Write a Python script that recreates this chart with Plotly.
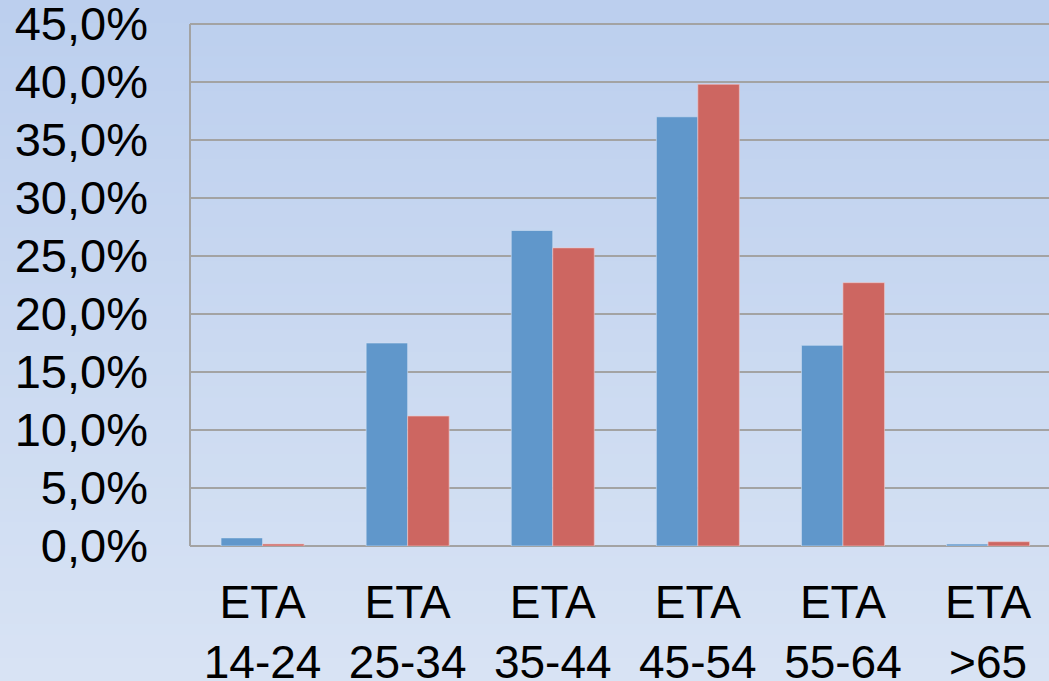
import plotly.graph_objects as go

categories = ["ETA<br>14-24", "ETA<br>25-34", "ETA<br>35-44", "ETA<br>45-54", "ETA<br>55-64", "ETA<br>>65"]
series_blue = [0.7, 17.5, 27.2, 37.0, 17.3, 0.17]
series_red = [0.17, 11.2, 25.7, 39.8, 22.7, 0.37]
y_ticks = [0, 5, 10, 15, 20, 25, 30, 35, 40, 45]

W, H = 1049, 681
ml, mr, mt, mb = 190, 0, 12, 135
pw = W - ml - mr
ph = H - mt - mb
y_top = 45 * ph / 522.0  # keep 45% at the same pixel height as the reference

fig = go.Figure()
fig.add_trace(go.Bar(x=categories, y=series_blue, marker=dict(color="#6097cb", line=dict(color="rgba(210,225,245,0.6)", width=1)), name="A"))
fig.add_trace(go.Bar(x=categories, y=series_red, marker=dict(color="#cd6661", line=dict(color="rgba(240,200,200,0.6)", width=1)), name="B"))

# background gradient stripes
top = (188, 207, 238)
bot = (216, 227, 244)
n = 60
shapes = []
for i in range(n):
    t = i / (n - 1)
    c = tuple(round(top[k] + (bot[k] - top[k]) * t) for k in range(3))
    y0px = H * i / n
    y1px = H * (i + 1) / n + 1
    shapes.append(dict(type="rect", xref="paper", yref="paper",
                       x0=-ml / pw, x1=1 + mr / pw + 0.01,
                       y0=(H - mb - y1px) / ph, y1=(H - mb - y0px) / ph,
                       fillcolor="rgb(%d,%d,%d)" % c, line=dict(width=0), layer="below"))
# left axis line from 0 to the top tick
shapes.append(dict(type="line", xref="paper", yref="y", x0=0, x1=0, y0=0, y1=y_ticks[-1],
                   line=dict(color="#a3a3a3", width=2), layer="above"))

fig.update_layout(
    width=W, height=H,
    margin=dict(l=ml, r=mr, t=mt, b=mb, pad=0, autoexpand=False),
    paper_bgcolor="rgb(202,216,240)",
    plot_bgcolor="rgba(0,0,0,0)",
    barmode="group", bargap=0.428, bargroupgap=0,
    showlegend=False,
    shapes=shapes,
    font=dict(family="Liberation Sans, Arial, sans-serif", size=46, color="black"),
)
fig.update_xaxes(range=[-0.5, 5.42], showgrid=False, showline=False, zeroline=False, automargin=False,
                 ticks="", tickfont=dict(size=46), ticklabelstandoff=25, ticklabeloverflow="allow")
fig.update_yaxes(range=[0, y_top], tickmode="array", tickvals=y_ticks,
                 ticktext=[("%.1f" % v).replace(".", ",") + "%" for v in y_ticks],
                 showgrid=True, gridcolor="#a3a3a3", gridwidth=2, automargin=False,
                 zeroline=True, zerolinecolor="#a3a3a3", zerolinewidth=2,
                 showline=False, ticklabeloverflow="allow",
                 ticks="", tickfont=dict(size=47), ticklabelstandoff=41)

fig.write_html("out.html", config={"displayModeBar": False},
               post_script="document.body.style.margin='0';document.body.style.overflow='hidden';")
